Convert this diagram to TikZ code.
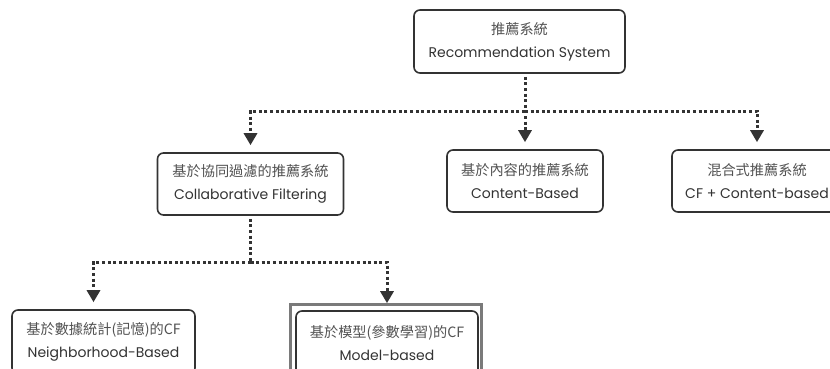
\documentclass[tikz,border=0pt]{standalone}
\usepackage{fontspec}
\setmainfont{Poppins}
\newfontfamily\cjk{Noto Sans CJK TC}
\usetikzlibrary{arrows.meta}
\definecolor{ink}{HTML}{333333}
\definecolor{boxgray}{HTML}{7A7A7A}
\newcommand\zhtxt[1]{{\cjk\fontsize{14.2}{23}\selectfont\color{ink!85!white}#1}}
\begin{document}
\begin{tikzpicture}[x=1pt,y=-1pt,
  box/.style={draw=ink, line width=1.6pt, rounded corners=6pt, align=center,
    text=ink, inner sep=0pt, font=\fontsize{14}{23}\selectfont},
  conn/.style={draw=ink, line width=3pt, dash pattern=on 3pt off 2.6pt},
  arr/.style={conn, -{Triangle[width=13pt,length=12pt]}, shorten >=7pt}]
\useasboundingbox (0,0) rectangle (830,369);
\clip (0,0) rectangle (830,369);
\fill[white] (0,0) rectangle (830,369);

\node[box, minimum width=211pt, minimum height=63pt] (root) at (519.5,41.5)
  {\zhtxt{推薦系統}\\Recommendation System};
\node[box, minimum width=186pt, minimum height=62pt] (cf) at (250.5,184)
  {\zhtxt{基於協同過濾的推薦系統}\\Collaborative Filtering};
\node[box, minimum width=156pt, minimum height=62pt] (content) at (525,181)
  {\zhtxt{基於內容的推薦系統}\\Content-Based};
\node[box, minimum width=170pt, minimum height=62pt] (hybrid) at (757,181)
  {\zhtxt{混合式推薦系統}\\CF + Content-based};
\node[box, minimum width=183pt, minimum height=64pt] (nb) at (103.5,342)
  {\zhtxt{基於數據統計(記憶)的CF}\\Neighborhood-Based};
\node[box, minimum width=182pt, minimum height=64pt] (model) at (387,343)
  {\zhtxt{基於模型(參數學習)的CF}\\Model-based};
\draw[draw=boxgray, line width=3pt]
  ([xshift=-4.5pt,yshift=5.5pt]model.north west) rectangle ([xshift=3pt,yshift=-10pt]model.south east);

\coordinate (j1) at (525,111);
\draw[arr, shorten <=3pt] (root.south -| j1) -- (content.north);
\draw[arr] (j1) -| (cf.north);
\draw[arr] (j1) -| (hybrid.north);

\coordinate (j2) at (250,262);
\draw[conn, shorten <=3pt] (cf.south) -- (cf.south |- j2);
\draw[arr] (cf.south |- j2) -| ([xshift=-10pt]nb.north);
\draw[arr] (cf.south |- j2) -| (model.north);
\end{tikzpicture}
\end{document}
